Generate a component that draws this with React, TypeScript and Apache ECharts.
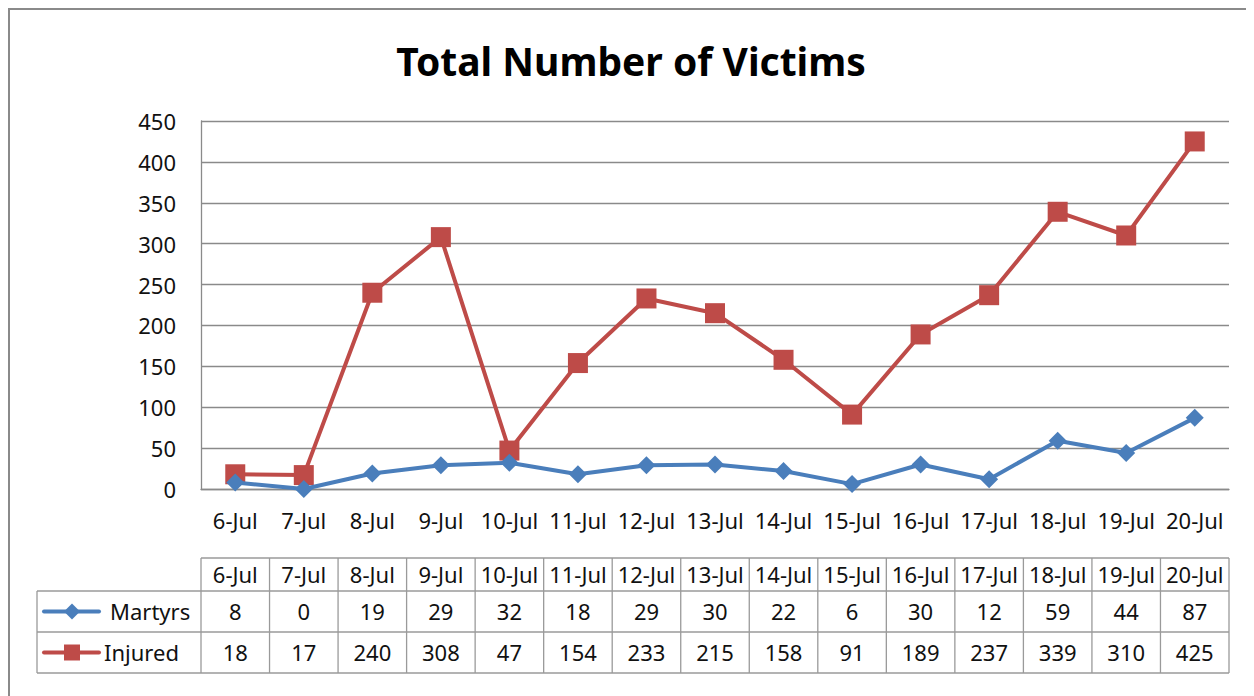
import React, { useEffect, useRef } from "react";
import * as echarts from "echarts";

const categories = ["6-Jul","7-Jul","8-Jul","9-Jul","10-Jul","11-Jul","12-Jul","13-Jul","14-Jul","15-Jul","16-Jul","17-Jul","18-Jul","19-Jul","20-Jul"];
const martyrs = [8, 0, 19, 29, 32, 18, 29, 30, 22, 6, 30, 12, 59, 44, 87];
const injured = [18, 17, 240, 308, 47, 154, 233, 215, 158, 91, 189, 237, 339, 310, 425];
const seriesNames = ["Martyrs", "Injured"];
const titleText = "Total Number of Victims";

const BLUE = "#4A7EBB";
const RED = "#BE4B48";
const FONT = "Noto Sans";

export default function App() {
  const ref = useRef<HTMLDivElement>(null);
  useEffect(() => {
    if (!ref.current) return;
    const chart = echarts.init(ref.current, null, { renderer: "svg" });
    const gridLeft = 193, gridTop = 113, gridWidth = 1028, gridHeight = 368;
    const cw = gridWidth / categories.length;
    const rowY = [550, 583, 624, 665];
    const legendLeft = 29;
    const tableRight = gridLeft + gridWidth;
    const lineStyle = { stroke: "#9a9a9a", lineWidth: 1.3 };
    const g: any[] = [];
    g.push({ type: "rect", shape: { x: 1, y: 1, width: 1400, height: 900 }, style: { fill: "none", stroke: "#8a8a8a", lineWidth: 2 }, silent: true });
    g.push({ type: "line", shape: { x1: gridLeft, y1: rowY[0], x2: tableRight, y2: rowY[0] }, style: lineStyle });
    for (let r = 1; r < 4; r++) {
      g.push({ type: "line", shape: { x1: legendLeft, y1: rowY[r], x2: tableRight, y2: rowY[r] }, style: lineStyle });
    }
    g.push({ type: "line", shape: { x1: legendLeft, y1: rowY[1], x2: legendLeft, y2: rowY[3] }, style: lineStyle });
    for (let i = 0; i <= categories.length; i++) {
      const x = gridLeft + i * cw;
      g.push({ type: "line", shape: { x1: x, y1: rowY[0], x2: x, y2: rowY[3] }, style: lineStyle });
    }
    const rows = [categories, martyrs.map(String), injured.map(String)];
    rows.forEach((row, r) => {
      const cy = (rowY[r] + rowY[r + 1]) / 2;
      row.forEach((t, i) => {
        g.push({ type: "text", x: gridLeft + (i + 0.5) * cw, y: cy - 1, style: { text: t, fill: "#111", font: `22px "${FONT}"`, textAlign: "center", textVerticalAlign: "middle" } });
      });
    });
    const keyX1 = 36, keyX2 = 91, keyMid = 64;
    const my = (rowY[1] + rowY[2]) / 2;
    const iy = (rowY[2] + rowY[3]) / 2;
    g.push({ type: "line", shape: { x1: keyX1, y1: my, x2: keyX2, y2: my }, style: { stroke: BLUE, lineWidth: 4, lineCap: "round" } });
    g.push({ type: "polygon", shape: { points: [[keyMid, my - 8], [keyMid + 8, my], [keyMid, my + 8], [keyMid - 8, my]] }, style: { fill: BLUE } });
    g.push({ type: "text", x: 102, y: my - 1, style: { text: seriesNames[0], fill: "#111", font: `22px "${FONT}"`, textAlign: "left", textVerticalAlign: "middle" } });
    g.push({ type: "line", shape: { x1: keyX1, y1: iy, x2: keyX2, y2: iy }, style: { stroke: RED, lineWidth: 4, lineCap: "round" } });
    g.push({ type: "rect", shape: { x: keyMid - 8, y: iy - 8, width: 16, height: 16 }, style: { fill: RED } });
    g.push({ type: "text", x: 96, y: iy - 1, style: { text: seriesNames[1], fill: "#111", font: `22px "${FONT}"`, textAlign: "left", textVerticalAlign: "middle" } });

    chart.setOption({
      animation: false,
      title: {
        text: titleText,
        left: "center",
        top: 28,
        textStyle: { fontFamily: FONT, fontWeight: "bold", fontSize: 39, color: "#000" },
      },
      grid: { left: gridLeft, top: gridTop, width: gridWidth, height: gridHeight },
      xAxis: {
        type: "category",
        data: categories,
        boundaryGap: true,
        axisLine: { lineStyle: { color: "#8a8a8a", width: 1.3 } },
        axisTick: { show: false },
        axisLabel: { color: "#111", fontFamily: FONT, fontSize: 22, margin: 20, interval: 0 },
      },
      yAxis: {
        type: "value",
        min: 0,
        max: 450,
        interval: 50,
        axisLine: { show: true, lineStyle: { color: "#8a8a8a", width: 1.3 } },
        axisTick: { show: false },
        splitLine: { lineStyle: { color: "#8a8a8a", width: 1.3 } },
        axisLabel: { color: "#111", fontFamily: FONT, fontSize: 22, margin: 25 },
      },
      series: [
        {
          name: seriesNames[0],
          type: "line",
          data: martyrs,
          symbol: "diamond",
          symbolSize: 18,
          lineStyle: { color: BLUE, width: 4 },
          itemStyle: { color: BLUE },
          z: 3,
        },
        {
          name: seriesNames[1],
          type: "line",
          data: injured,
          symbol: "rect",
          symbolSize: 20,
          lineStyle: { color: RED, width: 4 },
          itemStyle: { color: RED },
          z: 2,
        },
      ],
      graphic: g,
    });
    return () => chart.dispose();
  }, []);
  return <div ref={ref} style={{ width: 1246, height: 688 }} />;
}
